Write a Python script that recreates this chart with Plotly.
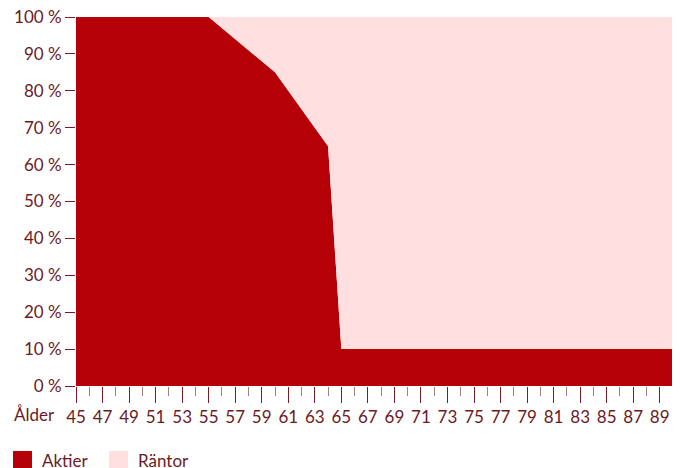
import plotly.graph_objects as go

ages = [45, 55, 60, 64, 65, 90]
aktier = [100, 100, 85, 65, 10, 10]
rantor = [0, 0, 15, 35, 90, 90]
label_ages = list(range(45, 90, 2))
minor_ages = list(range(46, 91, 2))
y_ticks = list(range(0, 101, 10))
y_labels = [f"{v} %" for v in y_ticks]

DARK = "#b40006"
PINK = "#ffdfe0"
TXT = "#6b1a1f"
FONT = "Lato"
FS = 17

fig = go.Figure()
fig.add_trace(go.Scatter(x=ages, y=aktier, stackgroup="s", mode="lines",
                         line=dict(width=0, color=DARK), fillcolor=DARK,
                         name="Aktier", showlegend=False))
fig.add_trace(go.Scatter(x=ages, y=rantor, stackgroup="s", mode="lines",
                         line=dict(width=0, color=PINK), fillcolor=PINK,
                         name="Räntor", showlegend=False))

# page body offsets the figure by 8px
OFF = 8
W, H = 672, 460
L, R, T, B = 76 - OFF, 7, 17 - OFF, 82
pw = W - L - R
ph = H - T - B
PLOT_LEFT_SCREEN = 76
PLOT_BOTTOM_SCREEN = 386

def px(x):
    return (x - PLOT_LEFT_SCREEN) / pw

def py(y):
    return (PLOT_BOTTOM_SCREEN - y) / ph

fig.update_layout(
    width=W, height=H,
    margin=dict(l=L, r=R, t=T, b=B, autoexpand=False),
    plot_bgcolor="white", paper_bgcolor="white",
    font=dict(family=FONT, size=FS, color=TXT),
    xaxis=dict(range=[45, 90], tickvals=label_ages, ticktext=[str(a) for a in label_ages],
               ticks="outside", ticklen=16, tickcolor="#7a1a22", tickwidth=1,
               showgrid=False, zeroline=False, showline=False,
               ticklabeloverflow="allow", automargin=False,
               minor=dict(tickvals=minor_ages, ticks="outside", ticklen=9,
                          tickcolor="#a87a80", tickwidth=1, showgrid=False)),
    yaxis=dict(range=[0, 100], tickvals=y_ticks, ticktext=y_labels,
               ticks="outside", ticklen=10, tickcolor="#7a1a22", tickwidth=1,
               showgrid=False, zeroline=False, showline=False,
               ticklabeloverflow="allow", automargin=False),
    showlegend=False,
)

fig.add_annotation(text="Ålder", xref="paper", yref="paper", x=px(12), y=py(414),
                   xanchor="left", yanchor="middle", showarrow=False,
                   font=dict(family=FONT, size=FS, color=TXT))

legend_items = [("Aktier", DARK, 13), ("Räntor", PINK, 109)]
for name, col, x0 in legend_items:
    fig.add_shape(type="rect", xref="paper", yref="paper",
                  x0=px(x0), x1=px(x0 + 19), y0=py(470), y1=py(451),
                  fillcolor=col, line=dict(width=0))
    fig.add_annotation(text=name, xref="paper", yref="paper", x=px(x0 + 27), y=py(460),
                       xanchor="left", yanchor="middle", showarrow=False,
                       font=dict(family=FONT, size=FS, color=TXT))

fig.write_html("out.html")
